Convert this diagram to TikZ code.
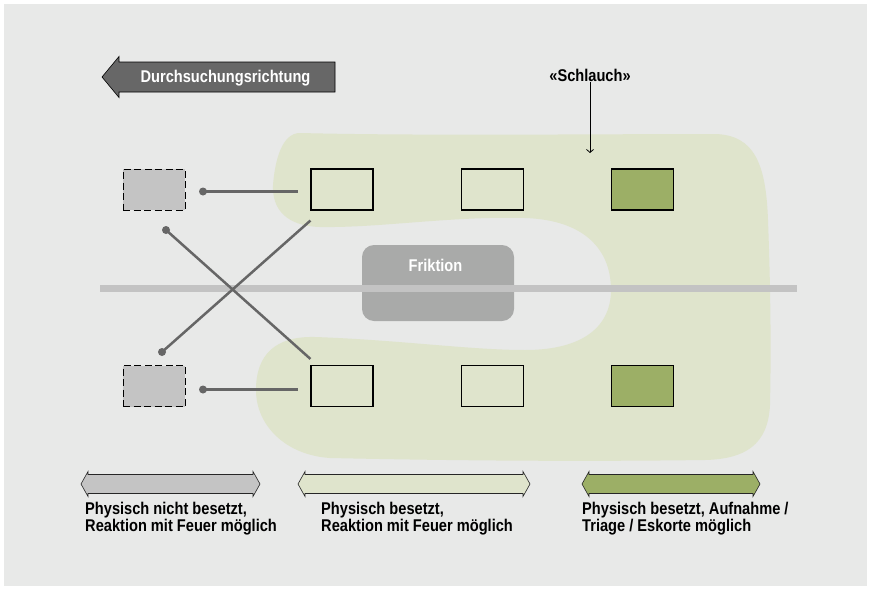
\documentclass[tikz,border=0pt]{standalone}
\usepackage{fontspec}
\setmainfont{Liberation Sans}[FakeStretch=0.86]
\usetikzlibrary{arrows.meta}

\definecolor{bg}{HTML}{E8E9E8}
\definecolor{hose}{HTML}{DFE4CC}
\definecolor{held}{HTML}{9CAF66}
\definecolor{vacant}{HTML}{C4C4C4}
\definecolor{friction}{HTML}{A9AAA9}
\definecolor{linkgray}{HTML}{666666}
\definecolor{dirgray}{HTML}{676767}
\definecolor{trackgray}{HTML}{C3C3C3}

\begin{document}
\begin{tikzpicture}[x=1pt,y=-1pt,
  post/.style={draw=black, line width=1.1pt, fill=hose, minimum width=62pt, minimum height=41pt, inner sep=0pt},
  postheld/.style={post, fill=held},
  postvacant/.style={post, fill=vacant, line width=1pt, dash pattern=on 7pt off 3.5pt},
  dot/.style={circle, fill=linkgray, inner sep=0pt, minimum size=8pt},
  link/.style={draw=linkgray, line width=2.5pt},
  txt/.style={font=\bfseries\fontsize{17}{15.7}\selectfont, inner sep=0pt},
  caption/.style={txt, align=left, anchor=north west},
  spanarrow/.style={draw=black!85, line width=0.6pt}]
\useasboundingbox (0,0) rectangle (870,589);
\fill[white] (0,0) rectangle (870,589);
\fill[bg] (4,4) rectangle (867,586);

% the hose around the friction zone
\fill[hose] (300,133) .. controls (420,136) and (600,134) .. (715,134)
  .. controls (755,135) and (766,165) .. (768,220)
  .. controls (771,300) and (771,360) .. (770,405)
  .. controls (768,445) and (745,459) .. (705,460)
  .. controls (560,462) and (420,460) .. (330,458)
  .. controls (285,455) and (256,425) .. (256,390)
  .. controls (256,355) and (275,336) .. (315,337)
  .. controls (400,340) and (470,350) .. (525,350)
  .. controls (585,350) and (611,325) .. (611,290)
  .. controls (611,250) and (585,220) .. (525,218)
  .. controls (450,216) and (380,228) .. (320,227)
  .. controls (285,226) and (272,208) .. (273,185)
  .. controls (275,160) and (282,133) .. (300,133) -- cycle;

% friction box and the track
\node[fill=friction, rounded corners=12pt, minimum width=152pt, minimum height=76pt] (fric) at (438,283) {};
\node[txt, white, anchor=base] (frictext) at (435.5,271) {Friktion};
\draw[trackgray, line width=7pt] (100,288.5) -- (797,288.5);

% direction of the search
\filldraw[fill=dirgray, draw=black, line width=0.6pt] (102,77) -- (119,56.5) -- (119,62) -- (335,62) -- (335,92) -- (119,92) -- (119,97.5) -- cycle;
\node[txt, white, anchor=base] (dir) at (225.5,82.3) {Durchsuchungsrichtung};

% posts
\node[postvacant] (t1) at (154,189.5) {};
\node[post] (t2) at (342,189.5) {};
\node[post] (t3) at (492.5,189.5) {};
\node[postheld] (t4) at (642.5,189.5) {};
\node[postvacant] (b1) at (154,386) {};
\node[post] (b2) at (342,386) {};
\node[post] (b3) at (492.5,386) {};
\node[postheld] (b4) at (642.5,386) {};

% links between the posts
\node[dot] (d1) at (203,191.5) {};
\node[dot] (d2) at (166,230) {};
\node[dot] (d3) at (162,352) {};
\node[dot] (d4) at (203,389.5) {};
\draw[link] (d1.center) -- ([xshift=-12pt,yshift=-2pt]t2.west);
\draw[link] (d2.center) -- ([yshift=6pt]b2.north west);
\draw[link] (d3.center) -- ([yshift=-10pt]t2.south west);
\draw[link] (d4.center) -- ([xshift=-12pt,yshift=-3.5pt]b2.west);

% hose label
\node[txt, anchor=base] (hoselabel) at (590,81.7) {«Schlauch»};
\coordinate (hosetip) at (590,153);
\draw[-{Straight Barb[length=3pt,width=7pt]}, line width=0.8pt] (hoselabel) -- (hosetip);

% ranges below
\foreach \l/\r/\c in {81/260/vacant, 298/530/hose, 582/760/held}
  \filldraw[spanarrow, fill=\c] (\l,484) -- (\l+7,471.5) -- (\l+7,474.5) -- (\r-7,474.5) -- (\r-7,471.5)
    -- (\r,484) -- (\r-7,496.5) -- (\r-7,493.5) -- (\l+7,493.5) -- (\l+7,496.5) -- cycle;
\node[caption] (cap1) at (85,502.3) {Physisch nicht besetzt,\\Reaktion mit Feuer möglich};
\node[caption] (cap2) at (321,502.3) {Physisch besetzt,\\Reaktion mit Feuer möglich};
\node[caption] (cap3) at (582,502.3) {Physisch besetzt, Aufnahme /\\Triage / Eskorte möglich};
\end{tikzpicture}
\end{document}
